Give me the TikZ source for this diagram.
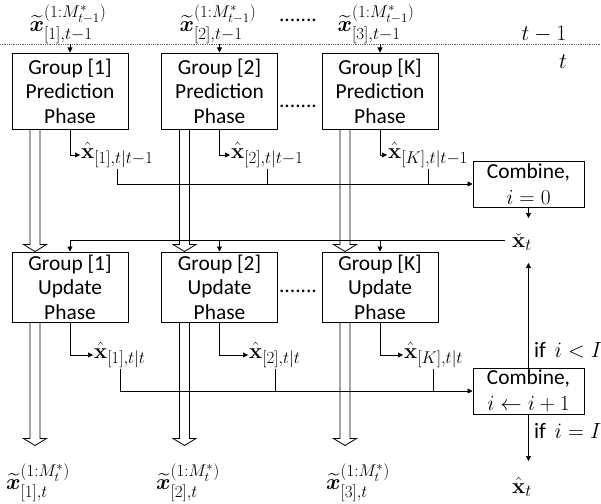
\RequirePackage{fix-cm}
\documentclass[tikz,border=0pt]{standalone}
\usepackage{amsmath}
\usepackage{bm}
\usepackage[no-math]{fontspec}
\setmainfont{Carlito}
\usetikzlibrary{arrows.meta,calc}
\DeclareMathSizes{22}{22}{17}{13}
\DeclareMathSizes{21.4}{21.4}{16.5}{12.5}

\tikzset{
  box/.style={draw, line width=1pt, align=center, inner sep=0pt, font=\fontsize{21.4}{24.5}\selectfont},
  pbox/.style={box, minimum width=116pt, minimum height=76pt},
  ubox/.style={box, minimum width=116pt, minimum height=70pt},
  cbox/.style={box, minimum width=111pt, minimum height=46pt, font=\fontsize{21.4}{26}\selectfont},
  conn/.style={line width=0.6pt},
  arr/.style={conn, -{Triangle[length=5pt,width=5pt]}},
  lbl/.style={inner sep=1pt, font=\fontsize{22}{26}\selectfont},
  fatline/.style={line width=0.8pt},
  dotsnode/.style={font=\fontsize{21.4}{24}\selectfont, inner sep=0pt},
  sep/.style={densely dotted, line width=0.8pt, black!60},
}
\newcommand\fatarrow[2]{\draw[fatline] ($#1+(-5,0)$) -- ($#2+(-5,-7)$) -- ($#2+(-11.5,-7)$) -- #2 -- ($#2+(11.5,-7)$) -- ($#2+(5,-7)$) -- ($#1+(5,0)$);}

\begin{document}
\begin{tikzpicture}[x=1pt,y=-1pt]
\useasboundingbox (0,0) rectangle (601,503);

% time separator
\coordinate (dlL) at (0,44);
\coordinate (dlR) at (601,44);
\draw[sep] (dlL) -- (dlR);
\node[lbl] (tm1) at (544,34) {$t-1$};
\node[lbl] (tt) at (563,62) {$t$};

% top inputs
\node[lbl] (t1) at (68,24.5) {$\widetilde{\boldsymbol{x}}^{(1:M^*_{t-1})}_{[1],t-1}$};
\node[lbl] (t2) at (218,24.5) {$\widetilde{\boldsymbol{x}}^{(1:M^*_{t-1})}_{[2],t-1}$};
\node[lbl] (t3) at (376,24.5) {$\widetilde{\boldsymbol{x}}^{(1:M^*_{t-1})}_{[3],t-1}$};
\node[dotsnode] (d0) at (298,20) {.......};

% prediction boxes
\node[pbox] (p1) at (70,91) {Group [1]\\Prediction\\Phase};
\node[pbox] (p2) at (219.5,91) {Group [2]\\Prediction\\Phase};
\node[pbox] (pK) at (380,91) {Group [K]\\Prediction\\Phase};
\node[dotsnode] (d1) at (298,106) {.......};

\draw[arr] (p1.north |- dlL) -- (p1.north);
\draw[arr] (p2.north |- dlL) -- (p2.north);
\draw[arr] (pK.north |- dlL) -- (pK.north);

% prediction outputs
\node[lbl, anchor=west] (lp1) at (80,155) {$\hat{\mathbf{x}}_{[1],t|t-1}$};
\node[lbl, anchor=west] (lp2) at (230,155) {$\hat{\mathbf{x}}_{[2],t|t-1}$};
\node[lbl, anchor=west] (lpK) at (387,155) {$\hat{\mathbf{x}}_{[K],t|t-1}$};
\draw[arr] (p1.south) |- (lp1.west);
\draw[arr] (p2.south) |- (lp2.west);
\draw[arr] (pK.south) |- (lpK.west);

% combine 1
\node[cbox] (c1) at (528.5,184) {Combine,\\$i=0$};
\draw[arr] (lp1.south) |- (c1.west);
\draw[conn] (lp2.south) -- (lp2.south |- c1.west);
\draw[conn] (lpK.south) -- (lpK.south |- c1.west);

\node[lbl] (xc) at (522,242) {$\check{\mathbf{x}}_t$};
\coordinate (c1e) at (528.5,218);
\draw[arr] (c1.south) -- (c1e);

% update boxes
\node[ubox] (u1) at (70,287) {Group [1]\\Update\\Phase};
\node[ubox] (u2) at (219.5,287) {Group [2]\\Update\\Phase};
\node[ubox] (uK) at (380,287) {Group [K]\\Update\\Phase};
\node[dotsnode] (d2) at (298,291) {.......};

\draw[conn] ([xshift=-6pt]xc.west |- 0,240) -- (u1.north |- 0,240);
\draw[arr] (u1.north |- 0,240) -- (u1.north);
\draw[arr] (u2.north |- 0,240) -- (u2.north);
\draw[arr] (uK.north |- 0,240) -- (uK.north);

% fat arrows prediction -> update
\coordinate (fs1) at ($(p1.south)+(-35,0)$);
\coordinate (fe1) at ($(u1.north)+(-35,0)$);
\coordinate (fs2) at ($(p2.south)+(-35,0)$);
\coordinate (fe2) at ($(u2.north)+(-35,0)$);
\coordinate (fs3) at ($(pK.south)+(-35,0)$);
\coordinate (fe3) at ($(uK.north)+(-35,0)$);
\fatarrow{(fs1)}{(fe1)}
\fatarrow{(fs2)}{(fe2)}
\fatarrow{(fs3)}{(fe3)}

% update outputs
\node[lbl, anchor=west] (lu1) at (93,355) {$\hat{\mathbf{x}}_{[1],t|t}$};
\node[lbl, anchor=west] (lu2) at (248,355) {$\hat{\mathbf{x}}_{[2],t|t}$};
\node[lbl, anchor=west] (luK) at (403,355) {$\hat{\mathbf{x}}_{[K],t|t}$};
\draw[arr] (u1.south) |- (lu1.west);
\draw[arr] (u2.south) |- (lu2.west);
\draw[arr] (uK.south) |- (luK.west);

% combine 2
\node[cbox] (c2) at (528.5,391) {Combine,\\$i\leftarrow i+1$};
\draw[arr] (lu1.south) |- (c2.west);
\draw[conn] (lu2.south) -- (lu2.south |- c2.west);
\draw[conn] (luK.south) -- (luK.south |- c2.west);

\coordinate (c2up) at (528.5,263);
\draw[arr] (c2.north) -- (c2up);
\node[lbl, anchor=west] (ifl) at (533,350) {if~\,$i<I$};
\coordinate (c2dn) at (528.5,461);
\draw[arr] (c2.south) -- (c2dn);
\node[lbl, anchor=west] (ife) at (533,431) {if~\,$i=I$};
\node[lbl] (xh) at (522,487) {$\hat{\mathbf{x}}_t$};

% fat arrows update -> outputs
\coordinate (gs1) at ($(u1.south)+(-35,0)$);
\coordinate (ge1) at ($(u1.south)+(-35,123)$);
\coordinate (gs2) at ($(u2.south)+(-35,0)$);
\coordinate (ge2) at ($(u2.south)+(-35,123)$);
\coordinate (gs3) at ($(uK.south)+(-35,0)$);
\coordinate (ge3) at ($(uK.south)+(-35,123)$);
\fatarrow{(gs1)}{(ge1)}
\fatarrow{(gs2)}{(ge2)}
\fatarrow{(gs3)}{(ge3)}

\node[lbl] (b1) at (38,483) {$\widetilde{\boldsymbol{x}}^{(1:M^*_{t})}_{[1],t}$};
\node[lbl] (b2) at (188,483) {$\widetilde{\boldsymbol{x}}^{(1:M^*_{t})}_{[2],t}$};
\node[lbl] (b3) at (358,483) {$\widetilde{\boldsymbol{x}}^{(1:M^*_{t})}_{[3],t}$};
\end{tikzpicture}
\end{document}
